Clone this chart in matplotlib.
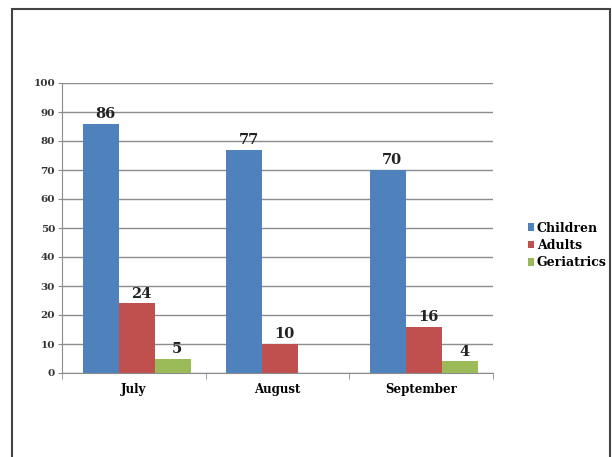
import numpy as np
import matplotlib
matplotlib.use("Agg")
import matplotlib.pyplot as plt
from matplotlib.patches import Rectangle

months = ["July", "August", "September"]
series = ["Children", "Adults", "Geriatrics"]
children = [86, 77, 70]
adults = [24, 10, 16]
geriatrics = [5, 0, 4]
colors = ["#4F81BD", "#C0504D", "#9BBB59"]

plt.rcParams["font.family"] = ["DejaVu Serif"]
plt.rcParams["font.weight"] = "bold"

fig = plt.figure(figsize=(6.12, 4.57), dpi=100)
# page frame (bottom edge runs off the image)
fig.patches.append(Rectangle((12 / 612, -10 / 457), 598 / 612, 458 / 457,
                             transform=fig.transFigure, fill=False,
                             edgecolor="#444444", linewidth=1.5))
ax = fig.add_axes([62 / 612, 1 - 373 / 457, 431 / 612, 290 / 457])

x = np.arange(len(months))
w = 0.25
for i, (name, vals) in enumerate(zip(series, [children, adults, geriatrics])):
    pos = x + (i - 1) * w + 0.02
    bars = ax.bar(pos, vals, w, color=colors[i], label=name, zorder=3)
    for b, v in zip(bars, vals):
        if v > 0:
            ax.text(b.get_x() + b.get_width() / 2 + 0.03, v + 1.0, str(v),
                    ha="center", va="bottom", fontsize=10.5, fontweight="bold",
                    color="#222222", zorder=4)

ax.set_xlim(-0.5, 2.5)
ax.set_ylim(0, 100)
ax.set_yticks(range(0, 101, 10))
ax.yaxis.grid(True, color="#8c8c8c", linewidth=1.0, zorder=0)
ax.set_xticks(x)
ax.set_xticklabels(months, fontsize=8.5, fontweight="bold")
ax.set_xticks([-0.5, 0.5, 1.5, 2.5], minor=True)
ax.tick_params(axis="x", which="major", length=0, pad=7)
ax.tick_params(axis="x", which="minor", length=4, color="#8c8c8c", direction="out")
ax.tick_params(axis="y", length=3, color="#8c8c8c", labelsize=7.5, pad=2)
for lab in ax.get_yticklabels():
    lab.set_fontweight("bold")
    lab.set_color("#333333")
for s in ["top", "right"]:
    ax.spines[s].set_visible(False)
ax.spines["left"].set_color("#8c8c8c")
ax.spines["bottom"].set_color("#8c8c8c")

ax.legend(loc="center left", bbox_to_anchor=(1.07, 0.44), frameon=False,
          fontsize=9, handlelength=0.5, handleheight=0.6, handletextpad=0.2,
          labelspacing=0.35, borderaxespad=0)

fig.savefig("out.png", dpi=100)
